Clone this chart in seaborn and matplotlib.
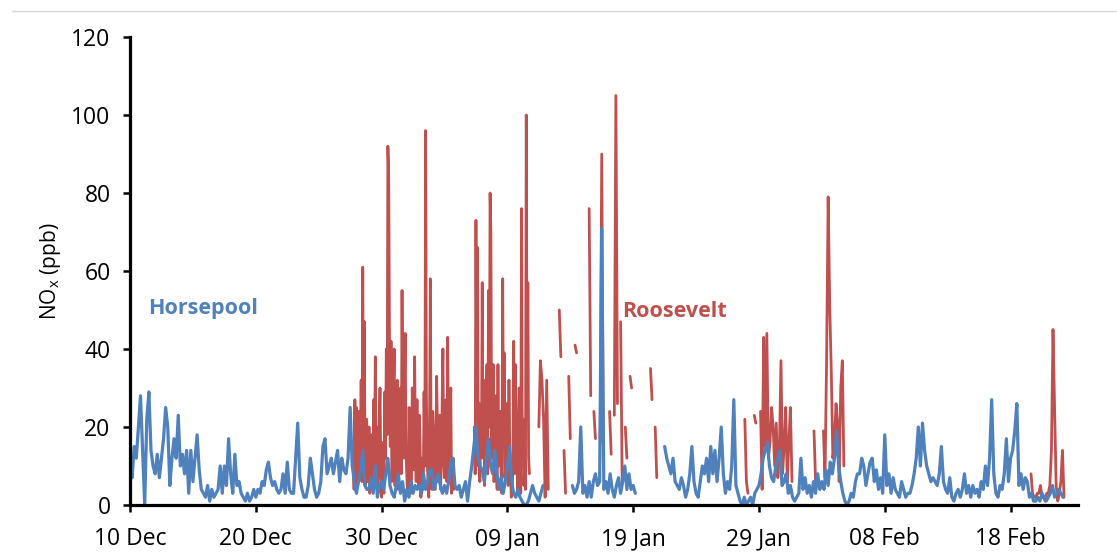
import numpy as np
import pandas as pd
import matplotlib
matplotlib.use("Agg")
import matplotlib.pyplot as plt
import matplotlib.dates as mdates
from matplotlib.lines import Line2D
import seaborn as sns

nan = np.nan

# ---------------- data ----------------
# Horsepool NOx (ppb), 4-hourly values starting 10 Dec 2012 00:00
horsepool_start = "2012-12-10 00:00"
horsepool_dec = [
    10, 7, 15, 12, 20, 28,   14, 0, 22, 29, 14, 10,   8, 13, 7, 12, 17, 25,
    20, 5, 12, 17, 12, 23,   10, 13, 8, 14, 3, 14,    6, 12, 18, 9, 4, 3,
    2, 5, 1, 4, 2, 3,        4, 10, 3, 10, 5, 17,     8, 3, 13, 5, 6, 3,
    2, 1, 3, 1, 2, 4,        2, 4, 3, 6, 5, 9,        11, 7, 5, 6, 4, 3,
    4, 8, 3, 11, 4, 3,       3, 12, 21, 7, 4, 2,      2, 5, 12, 8, 4, 2,
    3, 6, 15, 17, 8, 10,     12, 8, 11, 14, 6, 12,    9, 8, 12, 25, 10, 6,
    3, 6, 9, 14, 5, 4,       4, 7, 3, 10, 2, 5,       6, 4, 8, 12, 5, 3,
    2, 5, 8, 3, 6, 1,
]
horsepool_jan = [
    4, 2, 6, 3, 5, 4,        5, 3, 8, 4, 6, 9,        9, 4, 6, 8, 5, 3,
    5, 3, 6, 11, 12, 5,      4, 5, 2, 4, 6, 1,        6, 10, 15, 20, 12, 10,
    9, 6, 12, 17, 10, 8,     14, 8, 4, 7, 3, 6,       10, 15, 6, 3, 2, 4,
    2, 1, 0, 0, 1, 3,        5, 3, 2, 1, 3, 5,
    nan, nan, nan, nan, nan, nan,   nan, nan, nan, nan, nan, nan,
    nan, 5, 3, 4, 6, 20,     3, 5, 2, 6, 2, 6,        8, 5, 6, 71, 4, 6,
    3, 8, 4, 2, 5, 7,        3, 6, 10, 4, 8, 4,       5, 3, nan, nan, nan, nan,
    nan, nan, nan, nan, nan, nan,   nan, nan, nan, 15, 12, 10,
    8, 12, 6, 5, 4, 7,       5, 2, 4, 8, 15, 6,       3, 2, 6, 10, 8, 12,
    6, 15, 8, 14, 6, 12,     20, 8, 3, 6, 4, 10,      27, 5, 3, 1, 0, 2,
    0, 1, 2, 0, 3, 4,        5, 8, 12, 14, 16, 10,    7, 6, 10, 12, 14, 5,
    6, 8, 3, 5, 2, 1,
]
horsepool_feb = [
    2, 3, 12, 4, 7, 3,       5, 2, 6, 3, 8, 4,        6, 4, 9, 5, 11, 8,
    12, 19, 10, 6, 3, 1,     0, 1, 3, 2, 6, 8,        8, 12, 10, 5, 8, 11,
    12, 6, 9, 4, 7, 3,       18, 5, 8, 3, 7, 4,       3, 2, 6, 4, 2, 3,
    3, 5, 8, 12, 20, 10,     21, 14, 10, 8, 6, 7,     6, 5, 8, 15, 6, 4,
    3, 7, 2, 1, 3, 4,        2, 4, 8, 3, 5, 2,        5, 3, 4, 2, 6, 4,
    10, 5, 12, 27, 8, 3,     2, 5, 4, 8, 17, 6,       12, 14, 19, 26, 5, 8,
    4, 7, 6, 2, 3, 1,        1, 2, 1, 3, 2, 1,        2, 3, 5, 2, 3, 4,
    3, 2,
]

# Roosevelt NOx (ppb): pieces of record (gaps between pieces = missing data)
roos_starts = [
    "2012-12-27 18:00", "2013-01-06 09:00", "2013-01-11 12:00", "2013-01-13 03:00",
    "2013-01-14 09:00", "2013-01-15 12:00", "2013-01-20 09:00", "2013-01-27 21:00",
    "2013-01-28 15:00", "2013-01-29 03:00", "2013-02-02 09:00", "2013-02-03 03:00",
    "2013-02-19 15:00",
]
roos_steps = ["90min", "90min", "3h", "3h", "3h", "3h", "3h",
              "3h", "3h", "3h", "3h", "3h", "3h"]
roos_a = [10, 4, 27, 8, 25, 5, 20, 24, 8, 15, 32, 6, 61, 18, 47, 5, 9, 22, 6, 14,
          20, 3, 7, 18, 4, 12, 27, 7, 38, 10, 20, 4, 8, 22, 30, 9, 2, 16, 5, 3,
          29, 12, 40, 18, 92, 85, 44, 15, 42, 6, 11, 28, 40, 5, 17, 25, 32, 4, 12, 20,
          30, 8, 55, 22, 12, 30, 44, 14, 8, 3, 4, 25, 12, 3, 6, 30, 21, 9, 38, 14,
          6, 27, 8, 5, 23, 15, 2, 12, 8, 4, 29, 10, 96, 28, 12, 6, 2, 20, 58, 9,
          4, 24, 19, 6, 4, 14, 33, 20, 6, 10, 23, 4, 11, 25, 40, 12, 7, 19, 27, 6,
          43, 15, 8, 22, 30, 3, 6, 12, 4]
roos_b = [20, 8, 73, 30, 66, 10, 26, 6, 21, 15, 57, 12, 32, 5, 14, 26, 36, 8, 55, 20,
          80, 70, 12, 25, 36, 6, 15, 28, 9, 4, 36, 10, 16, 24, 8, 3, 58, 18, 39, 7,
          11, 26, 18, 5, 32, 14, 8, 2, 3, 10, 42, 8, 36, 20, 12, 4, 21, 30, 8, 3,
          76, 10, 22, 5, 11, 4, 100, 28, 57, 12, 8]
roos_c = [20, 37, 32, 22, 2, 32, 4]
roos_d = [50, 38, nan, 14, 3, nan, 33, 17]
roos_e = [41, 39, nan, 11, 8]
roos_f = [76, 28, nan, 24, 17, nan, nan, 16, 90, 11, nan, nan, nan, 24, 13, nan,
          23, 105, 26, nan, 47, 6, nan, 20, 12, nan, 33, 30]
roos_g = [35, 27, nan, 20, 7]
roos_h = [22, 6, 3]
roos_i = [23, 21]
roos_j = [24, 4, 43, 15, 44, 12, 16, 25, 20, 10, 21, 7, 14, 37, 8, 15, 25, 6, 16, 25, 6]
roos_k = [19, 6]
roos_l = [19, 7, 37, 79, 51, 34, 12, 16, 26, 21, 6, 30, 37, 10]
roos_m = [8, 3, 2, 2, 3, 3, 5, 2, 2, 1, 3, 3, 5, 14, 45, 25, 5, 1, 3, 6, 14, 2]
roos_pieces = [roos_a, roos_b, roos_c, roos_d, roos_e, roos_f, roos_g,
               roos_h, roos_i, roos_j, roos_k, roos_l, roos_m]

tick_dates = ["2012-12-10", "2012-12-20", "2012-12-30", "2013-01-09",
              "2013-01-19", "2013-01-29", "2013-02-08", "2013-02-18"]
y_ticks = [0, 20, 40, 60, 80, 100, 120]

BLUE = "#4F81BD"
RED = "#C0504D"


def piece_frame(values, t0, step, piece_id):
    idx = pd.date_range(t0, periods=len(values), freq=step)
    df = pd.DataFrame({"time": idx, "nox": np.array(values, dtype=float)})
    df["seg"] = piece_id * 1000 + df["nox"].isna().cumsum()
    return df.dropna()


hp_df = piece_frame(horsepool_dec + horsepool_jan + horsepool_feb,
                    horsepool_start, "4h", 0)
roos_df = pd.concat([piece_frame(v, t, s, k + 1)
                     for k, (t, s, v) in enumerate(zip(roos_starts, roos_steps, roos_pieces))],
                    ignore_index=True)

# ---------------- plot ----------------
sns.set_theme(style="white")
plt.rcParams["font.family"] = ["Open Sans", "DejaVu Sans"]
plt.rcParams["mathtext.fontset"] = "custom"
plt.rcParams["mathtext.rm"] = "Open Sans"
plt.rcParams["mathtext.it"] = "Open Sans"

fig = plt.figure(figsize=(11.17, 5.59), dpi=100)
ax = fig.add_axes([0.1164, 0.0966, 0.965 - 0.1164, 0.9338 - 0.0966])

sns.lineplot(data=roos_df, x="time", y="nox", units="seg", estimator=None,
             color=RED, lw=2.0, ax=ax, legend=False, sort=False)
sns.lineplot(data=hp_df, x="time", y="nox", units="seg", estimator=None,
             color=BLUE, lw=2.3, ax=ax, legend=False, sort=False)

ax.set_ylim(0, 120)
ax.set_yticks(y_ticks)
ax.set_xlim(pd.Timestamp("2012-12-10 00:00"), pd.Timestamp("2013-02-23 08:30"))
ax.set_xticks(pd.to_datetime(tick_dates))
ax.xaxis.set_major_formatter(mdates.DateFormatter("%d %b"))

for side in ["top", "right"]:
    ax.spines[side].set_visible(False)
for side in ["left", "bottom"]:
    ax.spines[side].set_color("black")
    ax.spines[side].set_linewidth(2.3)
ax.tick_params(axis="both", which="major", direction="out", length=5, width=1.8,
               color="black", labelsize=16.5, labelcolor="black",
               bottom=True, left=True)
ax.tick_params(axis="x", pad=11)
ax.tick_params(axis="y", pad=9)
ax.grid(False)

ax.set_xlabel("")
ax.set_ylabel("NO$_{\\mathrm{x}}$ (ppb)", fontsize=15, color="black", labelpad=6)

ax.text(pd.Timestamp("2012-12-11 10:00"), 50.3, "Horsepool", color=BLUE,
        fontsize=15.5, fontweight="bold", ha="left", va="center")
ax.text(pd.Timestamp("2013-01-18 03:00"), 49.7, "Roosevelt", color=RED,
        fontsize=15.5, fontweight="bold", ha="left", va="center")

fig.add_artist(Line2D([12 / 1117, 1.0], [1 - 11 / 559, 1 - 11 / 559],
                      color="#D9D9D9", lw=1.0))

fig.savefig("out.png", dpi=100, facecolor="white")
